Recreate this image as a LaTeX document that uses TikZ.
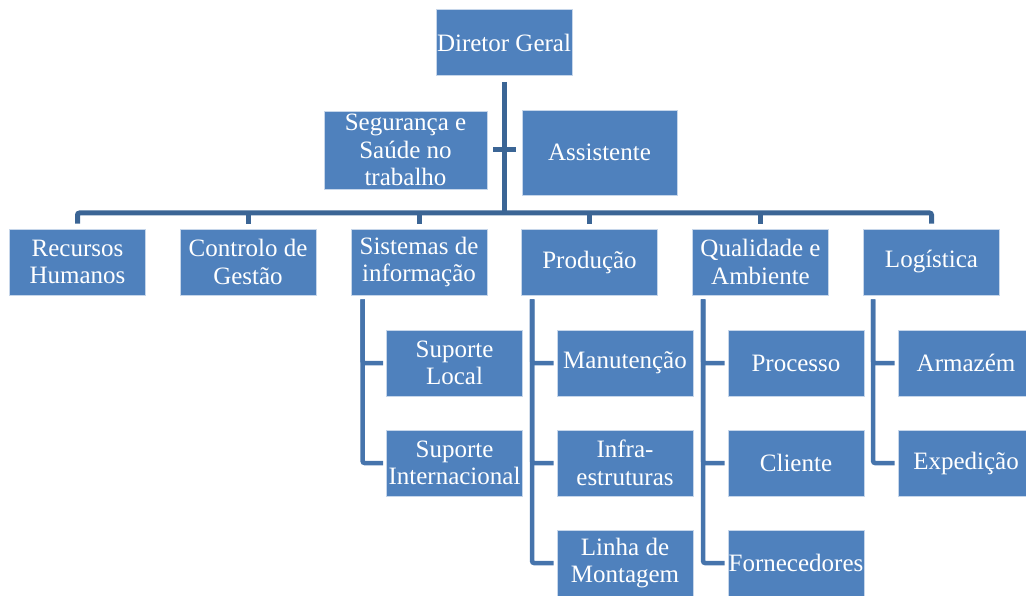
\documentclass[tikz,border=0pt]{standalone}
\usepackage{fontspec}
\setmainfont{Liberation Serif}
\usetikzlibrary{positioning, calc}
\definecolor{boxblue}{HTML}{4F81BD}
\definecolor{linkblue}{HTML}{3B6595}
\definecolor{sublinkblue}{HTML}{4674AC}
\definecolor{edgeblue}{HTML}{C6D6EA}

\begin{document}
\begin{tikzpicture}[
    x=1pt, y=-1pt,
    font=\fontsize{25}{27.5}\selectfont,
    base/.style={draw=edgeblue, line width=0.8pt, fill=boxblue, text=white, align=center, inner sep=0.5pt},
    unit/.style={base, minimum width=136pt, minimum height=66pt},
    link/.style={draw=linkblue, line width=5pt, rounded corners=2pt},
    sublink/.style={draw=sublinkblue, line width=4.5pt, rounded corners=2pt, shorten <=4pt, shorten >=3pt}
]
    \useasboundingbox (0,0) rectangle (1026,596);

    % --- topo ---
    \node [unit] (dg) at (504,42.5) {Diretor Geral};
    \node [base, minimum width=163pt, minimum height=78pt] (seg) at (405.5,150) {Segurança e\\Saúde no\\trabalho};
    \node [base, minimum width=155pt, minimum height=85pt] (asst) at (599.5,152.5) {Assistente};
    \coordinate (bus) at (504,213);

    % --- departamentos ---
    \node [unit] (rh) at (77.5,262) {Recursos\\Humanos};
    \node [unit] (cg) at (248,262) {Controlo de\\Gestão};
    \node [unit] (si) at (419,262) {Sistemas de\\informação};
    \node [unit] (pr) at (589.5,262) {Produção};
    \node [unit] (qa) at (760.5,262) {Qualidade e\\Ambiente};
    \node [unit] (lg) at (931.5,262) {Logística};

    % --- subunidades ---
    \node [unit] (sl) at (454.5,363) {Suporte\\Local};
    \node [unit] (sint) at (454.5,463) {Suporte\\Internacional};
    \node [unit] (man) at (625,363) {Manutenção};
    \node [unit] (inf) at (625,463) {Infra-\\estruturas};
    \node [unit] (lm) at (625,563) {Linha de\\Montagem};
    \node [unit] (proc) at (796,363) {Processo};
    \node [unit] (cli) at (796,463) {Cliente};
    \node [unit] (forn) at (796,563) {Fornecedores};
    \node [unit] (arm) at (966,363) {Armazém};
    \node [unit] (exp) at (966,463) {Expedição};

    % --- ligações principais ---
    \draw [link, shorten <=6pt] (dg.south) -- (bus);
    \draw [link, shorten <=6pt, shorten >=6pt] (seg.east) -- (seg.east -| asst.west);
    \draw [link, shorten <=5pt, shorten >=5pt] (rh.north) |- (bus) -| (lg.north);
    \draw [link, shorten <=5pt] (cg.north) -- (cg.north |- bus);
    \draw [link, shorten <=5pt] (si.north) -- (si.north |- bus);
    \draw [link, shorten <=5pt] (pr.north) -- (pr.north |- bus);
    \draw [link, shorten <=5pt] (qa.north) -- (qa.north |- bus);

    % --- ligações das subunidades ---
    \draw [sublink] ([xshift=12pt]si.south west) |- (sl.west);
    \draw [sublink] ([xshift=12pt]si.south west) |- (sint.west);
    \draw [sublink] ([xshift=11pt]pr.south west) |- (man.west);
    \draw [sublink] ([xshift=11pt]pr.south west) |- (inf.west);
    \draw [sublink] ([xshift=11pt]pr.south west) |- (lm.west);
    \draw [sublink] ([xshift=11pt]qa.south west) |- (proc.west);
    \draw [sublink] ([xshift=11pt]qa.south west) |- (cli.west);
    \draw [sublink] ([xshift=11pt]qa.south west) |- (forn.west);
    \draw [sublink] ([xshift=10pt]lg.south west) |- (arm.west);
    \draw [sublink] ([xshift=10pt]lg.south west) |- (exp.west);

\end{tikzpicture}
\end{document}
